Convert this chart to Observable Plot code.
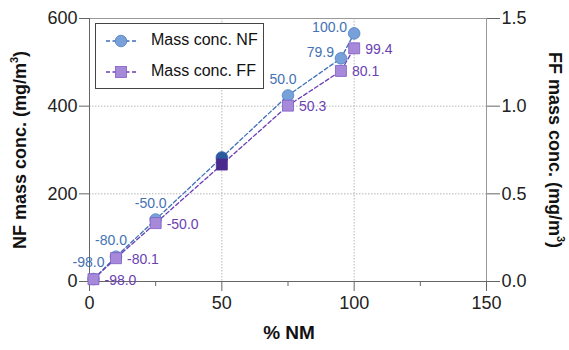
<!DOCTYPE html>
<html>
<head>
<meta charset="utf-8">
<script src="https://cdn.jsdelivr.net/npm/d3@7"></script>
<script src="https://cdn.jsdelivr.net/npm/@observablehq/plot@0.6"></script>
<style>
  html, body { margin: 0; padding: 0; background: #fff; }
  #chart { position: relative; width: 569px; height: 350px; }
</style>
</head>
<body>
<div id="chart"></div>
<script>
// ---- data ----
const pctNM    = [1.5, 10, 25, 50, 75, 95, 100];
const nfConc   = [5.7, 56.6, 141.5, 283, 424.5, 509.1, 566];        // mg/m^3
const ffConc   = [0.013, 0.133, 0.333, 0.667, 1.003, 1.201, 1.330]; // mg/m^3
const nfLabels = ["-98.0", "-80.0", "-50.0", "", "50.0", "79.9", "100.0"];
const ffLabels = ["-98.0", "-80.1", "-50.0", "", "50.3", "80.1", "99.4"];
const xTicks = [0, 50, 100, 150];
const xMinorTicks = [25, 75, 125];
const yTicks = [0, 200, 400, 600];
const ffTicks = [0, 0.5, 1.0, 1.5];
const ffToNf = 400; // right axis 1.5 <-> left axis 600
const highlightX = 50;

const rows = pctNM.map((x, i) => ({
  x, nf: nfConc[i], ff: ffConc[i] * ffToNf, nfL: nfLabels[i], ffL: ffLabels[i], hi: x === highlightX
}));

const BLUE_LINE = "#3f6fb8", BLUE_FILL = "#77a1d8", BLUE_STROKE = "#4f7fc0", BLUE_HI = "#2c5a9e";
const PURP_LINE = "#6a3db6", PURP_FILL = "#a68ad9", PURP_STROKE = "#7f5bc6", PURP_HI = "#4b2a8e";
const BLUE_TEXT = "#4472b4", PURP_TEXT = "#6b3fb2";
const FONT = "'Liberation Sans', Arial, Helvetica, sans-serif";

const chart = Plot.plot({
  width: 569,
  height: 350,
  marginLeft: 89,
  marginRight: 83,
  marginTop: 18,
  marginBottom: 69,
  style: { fontFamily: FONT, fontSize: "18px", color: "#222", background: "#fff", overflow: "visible" },
  x: { domain: [0, 150] },
  y: { domain: [0, 600] },
  marks: [
    Plot.gridX([50, 100], { stroke: "#b8b8b8", strokeOpacity: 1, strokeDasharray: "1.5,1.5" }),
    Plot.gridY([200, 400], { stroke: "#b8b8b8", strokeOpacity: 1, strokeDasharray: "1.5,1.5" }),
    Plot.frame({ stroke: "#999" }),
    Plot.ruleX([0], { stroke: "#666" }),
    Plot.ruleY([0], { stroke: "#666" }),
    Plot.axisX({ ticks: xTicks, tickSize: 10, tickPadding: 5, label: null, stroke: "#666", fontSize: 18 }),
    Plot.axisX({ ticks: xMinorTicks, tickSize: 5, tickFormat: () => "", label: null, stroke: "#666" }),
    Plot.axisY({ ticks: yTicks, tickSize: 10, tickPadding: 2, label: null, stroke: "#666", fontSize: 18 }),
    Plot.axisY({ anchor: "right", ticks: ffTicks.map(v => v * ffToNf), tickFormat: d => (d / ffToNf).toFixed(1),
                 tickSize: 13, tickPadding: 2, label: null, stroke: "#666", fontSize: 18 }),
    Plot.line(rows, { x: "x", y: "nf", stroke: BLUE_LINE, strokeWidth: 1.3, strokeDasharray: "4,2.5" }),
    Plot.line(rows, { x: "x", y: "ff", stroke: PURP_LINE, strokeWidth: 1.3, strokeDasharray: "4,2.5" }),
    Plot.dot(rows, { filter: d => !d.hi, x: "x", y: "nf", r: 5.8, fill: BLUE_FILL, stroke: BLUE_STROKE, strokeWidth: 0.8 }),
    Plot.dot(rows, { filter: d => d.hi, x: "x", y: "nf", r: 5.8, fill: BLUE_HI, stroke: BLUE_HI, strokeWidth: 0.8 }),
    Plot.dot(rows, { filter: d => !d.hi, x: "x", y: "ff", symbol: "square", r: 6.2, fill: PURP_FILL, stroke: PURP_STROKE, strokeWidth: 0.8 }),
    Plot.dot(rows, { filter: d => d.hi, x: "x", y: "ff", symbol: "square", r: 6.2, fill: PURP_HI, stroke: PURP_HI, strokeWidth: 0.8 }),
    // NF labels above points (lower part) and left of points (upper part)
    Plot.text(rows, { filter: d => d.nfL && d.x < 90, x: "x", y: "nf", text: "nfL", dx: -5, dy: -16,
                      fill: BLUE_TEXT, fontSize: 14, textAnchor: "middle" }),
    Plot.text(rows, { filter: d => d.nfL && d.x >= 90, x: "x", y: "nf", text: "nfL", dx: -7, dy: -6,
                      fill: BLUE_TEXT, fontSize: 14, textAnchor: "end" }),
    Plot.text(rows, { filter: d => d.ffL, x: "x", y: "ff", text: "ffL", dx: 11, dy: 1,
                      fill: PURP_TEXT, fontSize: 14, textAnchor: "start" })
  ]
});

document.getElementById("chart").appendChild(chart);

// ---- titles and legend drawn into the SVG ----
const svg = d3.select(chart);

function axisTitle(x, y, rot, main, sup, tail) {
  const t = svg.append("text")
    .attr("transform", `translate(${x},${y}) rotate(${rot})`)
    .attr("text-anchor", "middle")
    .attr("dominant-baseline", "middle")
    .attr("font-family", FONT)
    .attr("font-weight", "bold")
    .attr("font-size", 18)
    .attr("fill", "#111");
  t.append("tspan").text(main);
  if (sup) {
    t.append("tspan").attr("font-size", 11).attr("dy", -6).text(sup);
    t.append("tspan").attr("dy", 6).text(tail);
  }
}
axisTitle(21, 150, -90, "NF mass conc. (mg/m", "3", ")");
axisTitle(554, 150, 90, "FF mass conc. (mg/m", "3", ")");
svg.append("text")
  .attr("x", 289).attr("y", 334)
  .attr("text-anchor", "middle").attr("dominant-baseline", "middle")
  .attr("font-family", FONT).attr("font-weight", "bold").attr("font-size", 19).attr("fill", "#111")
  .text("% NM");

// legend
const lg = svg.append("g");
lg.append("rect").attr("x", 95.5).attr("y", 23.5).attr("width", 168).attr("height", 65)
  .attr("fill", "#fff").attr("stroke", "#444").attr("stroke-width", 1);
const entries = [
  { label: "Mass conc. NF", line: BLUE_LINE, fill: BLUE_FILL, stroke: BLUE_STROKE, sym: "circle", y: 41 },
  { label: "Mass conc. FF", line: PURP_LINE, fill: PURP_FILL, stroke: PURP_STROKE, sym: "square", y: 72 }
];
for (const e of entries) {
  lg.append("line").attr("x1", 106).attr("x2", 136).attr("y1", e.y).attr("y2", e.y)
    .attr("stroke", e.line).attr("stroke-width", 1.3).attr("stroke-dasharray", "4,2.5");
  if (e.sym === "circle") {
    lg.append("circle").attr("cx", 121).attr("cy", e.y).attr("r", 5.8)
      .attr("fill", e.fill).attr("stroke", e.stroke).attr("stroke-width", 0.8);
  } else {
    lg.append("rect").attr("x", 121 - 5.5).attr("y", e.y - 5.5).attr("width", 11).attr("height", 11)
      .attr("fill", e.fill).attr("stroke", e.stroke).attr("stroke-width", 0.8);
  }
  lg.append("text").attr("x", 151).attr("y", e.y).attr("dominant-baseline", "middle")
    .attr("text-anchor", "start")
    .attr("font-family", FONT).attr("font-size", 16).attr("fill", "#111").text(e.label);
}
</script>
</body>
</html>
